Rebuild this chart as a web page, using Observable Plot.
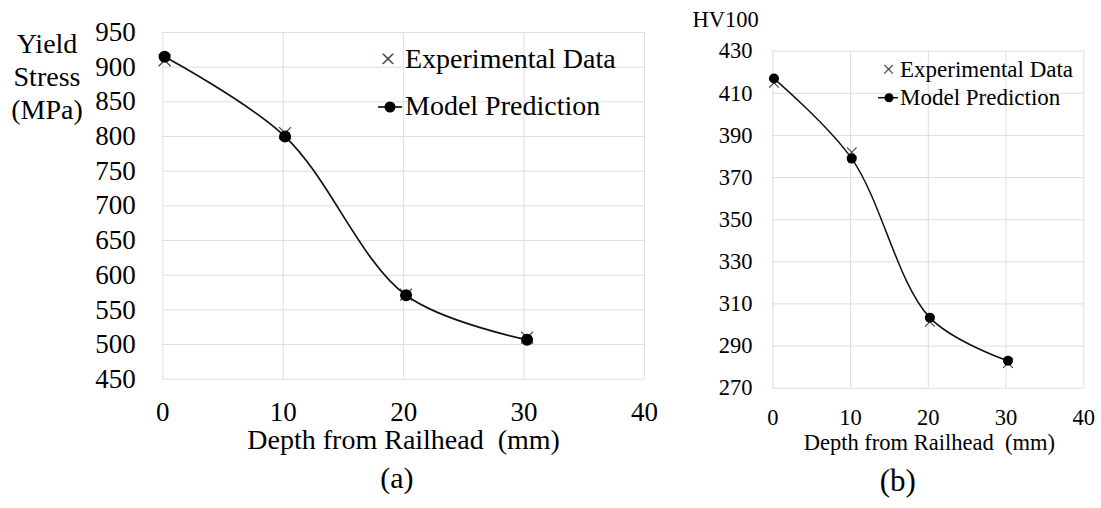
<!DOCTYPE html>
<html>
<head>
<meta charset="utf-8">
<script src="https://cdn.jsdelivr.net/npm/d3@7"></script>
<script src="https://cdn.jsdelivr.net/npm/@observablehq/plot@0.6"></script>
<style>
  html, body { margin: 0; padding: 0; background: #fff; }
  #wrap { position: relative; width: 1101px; height: 508px; overflow: hidden; font-family: "Liberation Serif", "Times New Roman", Tinos, "DejaVu Serif", serif; }
  #wrap > * { position: absolute; top: 0; }
  #left { left: 0; }
  #right { left: 660px; }
  #legend { left: 0; pointer-events: none; }
  #wrap svg, #wrap svg text { font-family: "Liberation Serif", "Times New Roman", Tinos, "DejaVu Serif", serif !important; }
</style>
</head>
<body>
<div id="wrap">
  <div id="left"></div>
  <div id="right"></div>
</div>
<script>
// ---- data ----
const depth = [0.15, 10.15, 20.2, 30.25];
const yieldModel = [915, 800, 571, 507];
const yieldExp = [910, 805, 572, 510];
const hvModel = [417, 379, 303.5, 283];
const hvExp = [415, 382, 301.5, 282];

const xTicks = [0, 10, 20, 30, 40];
const yieldTicks = [450, 500, 550, 600, 650, 700, 750, 800, 850, 900, 950];
const hvTicks = [270, 290, 310, 330, 350, 370, 390, 410, 430];

const xTitle = "Depth from Railhead\u00a0 (mm)";
const yieldTitle = "Yield\nStress\n(MPa)";
const hvTitle = "HV100";
const legendLabels = ["Experimental Data", "Model Prediction"];

const yieldRows = depth.map((d, i) => ({depth: d, model: yieldModel[i], exp: yieldExp[i]}));
const hvRows = depth.map((d, i) => ({depth: d, model: hvModel[i], exp: hvExp[i]}));

const gridColor = "#dedede";
const font = "'Liberation Serif', 'Times New Roman', Tinos, 'DejaVu Serif', serif";

// ---- left chart (a) ----
const left = Plot.plot({
  width: 660, height: 508,
  marginLeft: 162.3, marginRight: 16, marginTop: 32, marginBottom: 129.3,
  style: {fontFamily: font, fontSize: "27px", color: "#000", background: "transparent", overflow: "visible"},
  x: {domain: [0, 40]},
  y: {domain: [450, 950]},
  marks: [
    Plot.gridX(xTicks, {stroke: gridColor, strokeOpacity: 1, strokeWidth: 1}),
    Plot.gridY(yieldTicks, {stroke: gridColor, strokeOpacity: 1, strokeWidth: 1}),
    Plot.axisX(xTicks, {tickSize: 0, tickPadding: 23, fontSize: 27, label: null}),
    Plot.axisY(yieldTicks, {tickSize: 0, tickPadding: 27, fontSize: 27, label: null}),
    Plot.line(yieldRows, {x: "depth", y: "model", curve: "catmull-rom", stroke: "#111", strokeWidth: 1.7}),
    Plot.dot(yieldRows, {x: "depth", y: "exp", symbol: "times", r: 5.5, stroke: "#444", strokeWidth: 1.2}),
    Plot.dot(yieldRows, {x: "depth", y: "model", r: 6, fill: "#000", stroke: "none"}),
    Plot.text([xTitle], {text: d => d, frameAnchor: "bottom", dy: 70, fontSize: 28}),
    Plot.text(["(a)"], {text: d => d, frameAnchor: "bottom", dx: -6.7, dy: 109, fontSize: 30}),
    Plot.text([yieldTitle], {text: d => d, frameAnchor: "top-left", textAnchor: "middle", lineAnchor: "top", lineHeight: 1.18, dx: -115.8, dy: -2.9, fontSize: 28})
  ]
});
document.getElementById("left").appendChild(left);

// ---- right chart (b) ----
const right = Plot.plot({
  width: 441, height: 508,
  marginLeft: 112.3, marginRight: 17.7, marginTop: 50.7, marginBottom: 120.3,
  style: {fontFamily: font, fontSize: "22.5px", color: "#000", background: "transparent", overflow: "visible"},
  x: {domain: [0, 40]},
  y: {domain: [270, 430]},
  marks: [
    Plot.gridX(xTicks, {stroke: gridColor, strokeOpacity: 1, strokeWidth: 1}),
    Plot.gridY(hvTicks, {stroke: gridColor, strokeOpacity: 1, strokeWidth: 1}),
    Plot.axisX(xTicks, {tickSize: 0, tickPadding: 20.5, fontSize: 22.5, label: null}),
    Plot.axisY(hvTicks, {tickSize: 0, tickPadding: 20.3, fontSize: 22.5, label: null}),
    Plot.line(hvRows, {x: "depth", y: "model", curve: "catmull-rom", stroke: "#111", strokeWidth: 1.5}),
    Plot.dot(hvRows, {x: "depth", y: "exp", symbol: "times", r: 4.5, stroke: "#444", strokeWidth: 1.1}),
    Plot.dot(hvRows, {x: "depth", y: "model", r: 5, fill: "#000", stroke: "none"}),
    Plot.text([xTitle], {text: d => d, frameAnchor: "bottom", dx: 1, dy: 61.5, fontSize: 22.5}),
    Plot.text(["(b)"], {text: d => d, frameAnchor: "bottom", dx: -30.5, dy: 103, fontSize: 31}),
    Plot.text([hvTitle], {text: d => d, frameAnchor: "top-left", textAnchor: "start", lineAnchor: "top", dx: -80.3, dy: -39.7, fontSize: 22.5})
  ]
});
document.getElementById("right").appendChild(right);

// ---- legends (overlay) ----
const svg = d3.select("#wrap").append("svg")
  .attr("id", "legend").attr("width", 1101).attr("height", 508)
  .style("font-family", font);

function legend(g, cfg) {
  g.append("text").attr("x", cfg.crossX).attr("y", cfg.base1).attr("text-anchor", "middle")
    .attr("font-size", cfg.fs).attr("fill", "#444").text("\u00d7");
  g.append("text").attr("x", cfg.textX).attr("y", cfg.base1).attr("font-size", cfg.fs)
    .attr("fill", "#000").text(legendLabels[0]);
  g.append("line").attr("x1", cfg.lineX1).attr("x2", cfg.lineX2).attr("y1", cfg.markY).attr("y2", cfg.markY)
    .attr("stroke", "#111").attr("stroke-width", cfg.sw);
  g.append("circle").attr("cx", cfg.dotX).attr("cy", cfg.markY).attr("r", cfg.r).attr("fill", "#000");
  g.append("text").attr("x", cfg.textX).attr("y", cfg.base2).attr("font-size", cfg.fs)
    .attr("fill", "#000").text(legendLabels[1]);
}
legend(svg.append("g"), {crossX: 388, textX: 405, base1: 68, base2: 115, lineX1: 378, lineX2: 402, dotX: 390, markY: 107, r: 5.5, sw: 1.7, fs: 28});
legend(svg.append("g"), {crossX: 888.5, textX: 900, base1: 76.5, base2: 105, lineX1: 878, lineX2: 898, dotX: 889, markY: 97.7, r: 4.5, sw: 1.5, fs: 23});
</script>
</body>
</html>
